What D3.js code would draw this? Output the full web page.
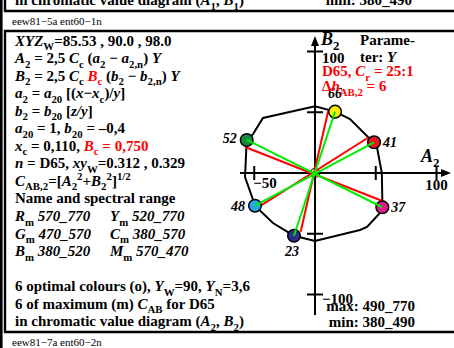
<!DOCTYPE html>
<html>
<head>
<meta charset="utf-8">
<script src="https://cdn.jsdelivr.net/npm/d3@7"></script>
<style>
  body { margin: 0; background: #fff; }
  svg { display: block; font-family: "Liberation Serif", "Times New Roman", serif; }
</style>
</head>
<body>
<div id="chart"></div>
<script>
// colour points (A2, B2) in chromatic value diagram
const pointLabels = ['66', '41', '37', '23', '48', '52'];
const pointA = [16.5, 48.6, 55.4, -17.3, -49.4, -56.2];
const pointB = [50.5, 25.3, -28.2, -51.6, -26.9, 27.2];
const pointColors = ['#ffee00', '#e8161e', '#e0188c', '#2a2e8c', '#22a8e8', '#1a8a42'];

// green lines join opposite colours
const greenPairs = [[0, 3], [1, 4], [5, 2]];

// red lines through the origin
const redStartA = [-57.6, 10.9, 43.6];
const redStartB = [21.4, 51.3, 29.0];
const redEndA = [57.6, -11.8, -50.5];
const redEndB = [-23.9, -48.3, -30.5];

// outline of the optimal colours
const outlineA = [16.5, 28.8, 43.6, 48.6, 51.0, 55.0, 55.4, 55.4, 53.5, 42.8, 37.0, 0.0, -9.9, -17.3, -34.6, -49.4, -51.0, -57.6, -56.2, -51.0, -42.8, 0.0];
const outlineB = [50.5, 44.4, 29.6, 25.3, 21.4, 0.0, -22.0, -28.2, -32.9, -44.4, -46.9, -56.0, -53.5, -51.6, -41.2, -26.9, -22.0, -3.3, 27.2, 32.0, 45.3, 55.0];

const xTicks = [-50, 50, 100];
const yTicks = [100, 50, -50, -100];

const width = 454, height = 348;
const svg = d3.select('#chart').append('svg')
  .attr('width', width)
  .attr('height', height);

const fs = 15;

// rich text helper: segments [text, flags]  i=italic s=sub p=sup r=red n=normal weight
function rich(x, y, segs, opts = {}) {
  const size = opts.size || fs;
  const t = svg.append('text')
    .attr('x', x).attr('y', y)
    .attr('font-size', size)
    .attr('font-weight', opts.weight || 'bold')
    .attr('fill', opts.fill || '#000')
    .attr('text-anchor', opts.anchor || 'start');
  let off = 0;
  segs.forEach(([txt, f = '']) => {
    let target = 0;
    if (f.includes('s')) target = size * 0.3;
    if (f.includes('p')) target = -size * 0.4;
    const ts = t.append('tspan').text(txt);
    if (target !== off) { ts.attr('dy', target - off); off = target; }
    if (f.includes('s') || f.includes('p')) ts.attr('font-size', size * 0.72);
    if (f.includes('i')) ts.attr('font-style', 'italic');
    if (f.includes('r')) ts.attr('fill', '#ff0000');
    if (f.includes('n')) ts.attr('font-weight', 'normal');
  });
  return t;
}

// frame lines
svg.append('line').attr('x1', 1.3).attr('x2', 1.3).attr('y1', 0).attr('y2', height)
  .attr('stroke', '#000').attr('stroke-width', 2.6);
svg.append('path').attr('d', 'M5,0 V11 H460').attr('fill', 'none')
  .attr('stroke', '#000').attr('stroke-width', 2.4);
svg.append('path').attr('d', 'M460,31 H5 V332 H460').attr('fill', 'none')
  .attr('stroke', '#000').attr('stroke-width', 2.4);

// top strip (previous panel)
rich(15, 5, [['in chromatic value diagram ('], ['A', 'i'], ['1', 's'], [', '], ['B', 'i'], ['1', 's'], [')']]);
rich(412, 5, [['min: 380_490']], { anchor: 'end' });
rich(12, 25, [['eew81−5a ent60−1n']], { size: 11, weight: 'normal' });
rich(12, 346, [['eew81−7a ent60−2n']], { size: 11, weight: 'normal' });

// left text block
const lines = [
  [['XYZ', 'i'], ['W', 's'], ['=85.53 , 90.0 , 98.0']],
  [['A', 'i'], ['2', 's'], [' = 2,5 '], ['C', 'i'], ['c', 's'], [' ('], ['a', 'i'], ['2', 's'], [' − '], ['a', 'i'], ['2,n', 's'], [') '], ['Y', 'i']],
  [['B', 'i'], ['2', 's'], [' = 2,5 '], ['C', 'i'], ['c', 's'], [' '], ['B', 'ir'], ['c', 'sr'], [' ('], ['b', 'i'], ['2', 's'], [' − '], ['b', 'i'], ['2,n', 's'], [') '], ['Y', 'i']],
  [['a', 'i'], ['2', 's'], [' = '], ['a', 'i'], ['20', 's'], [' [('], ['x', 'i'], ['−'], ['x', 'i'], ['c', 's'], [')/'], ['y', 'i'], [']']],
  [['b', 'i'], ['2', 's'], [' = '], ['b', 'i'], ['20', 's'], [' ['], ['z/y', 'i'], [']']],
  [['a', 'i'], ['20', 's'], [' = 1, '], ['b', 'i'], ['20', 's'], [' = –0,4']],
  [['x', 'i'], ['c', 's'], [' = 0,110, '], ['B', 'ir'], ['c', 'sr'], [' = 0,750', 'r']],
  [['n', 'i'], [' = D65, '], ['xy', 'i'], ['W', 's'], ['=0.312 , 0.329']],
  [['C', 'i'], ['AB,2', 's'], ['=['], ['A', 'i'], ['2', 's'], ['2', 'p'], ['+'], ['B', 'i'], ['2', 's'], ['2', 'p'], [']'], ['1/2', 'p']],
  [['Name and spectral range']],
  [['R', 'i'], ['m', 's'], [' 570_770', 'i']],
  [['G', 'i'], ['m', 's'], [' 470_570', 'i']],
  [['B', 'i'], ['m', 's'], [' 380_520', 'i']],
  [],
  [['6 optimal colours (o), '], ['Y', 'i'], ['W', 's'], ['=90, '], ['Y', 'i'], ['N', 's'], ['=3,6']],
  [['6 of maximum (m) '], ['C', 'i'], ['AB', 's'], [' for D65']],
  [['in chromatic value diagram ('], ['A', 'i'], ['2', 's'], [', '], ['B', 'i'], ['2', 's'], [')']]
];
const col2 = [
  [10, [['Y', 'i'], ['m', 's'], [' 520_770', 'i']]],
  [11, [['C', 'i'], ['m', 's'], [' 380_570', 'i']]],
  [12, [['M', 'i'], ['m', 's'], [' 570_470', 'i']]]
];
const lineY = i => 45.5 + i * 17.55;
lines.forEach((segs, i) => { if (segs.length) rich(15, lineY(i), segs); });
col2.forEach(([i, segs]) => rich(110, lineY(i), segs));

// chart
const x = d3.scaleLinear().domain([-100, 100]).range([315 - 121.5, 315 + 121.5]);
const y = d3.scaleLinear().domain([-100, 100]).range([173 + 121.5, 173 - 121.5]);

const g = svg.append('g');

// axes
g.append('line').attr('x1', 240).attr('x2', 443).attr('y1', y(0)).attr('y2', y(0))
  .attr('stroke', '#000').attr('stroke-width', 2);
g.append('path').attr('d', `M451,${y(0)} L441,${y(0) - 4} L441,${y(0) + 4} Z`).attr('fill', '#000');
g.append('line').attr('x1', x(0)).attr('x2', x(0)).attr('y1', 45).attr('y2', 315)
  .attr('stroke', '#000').attr('stroke-width', 2);
g.append('path').attr('d', `M${x(0)},36 L${x(0) - 4},46 L${x(0) + 4},46 Z`).attr('fill', '#000');

g.selectAll('.xt').data(xTicks).join('line')
  .attr('x1', d => x(d)).attr('x2', d => x(d))
  .attr('y1', y(0) - 7).attr('y2', y(0) + 7)
  .attr('stroke', '#000').attr('stroke-width', 2);
g.selectAll('.yt').data(yTicks).join('line')
  .attr('x1', x(0) - 8).attr('x2', x(0) + 8)
  .attr('y1', d => y(d)).attr('y2', d => y(d))
  .attr('stroke', '#000').attr('stroke-width', 2);

// outline
const outline = d3.line().x(d => x(d[0])).y(d => y(d[1])).curve(d3.curveLinearClosed);
g.append('path')
  .attr('d', outline(outlineA.map((a, i) => [a, outlineB[i]])))
  .attr('fill', 'none').attr('stroke', '#000').attr('stroke-width', 2);

// origin circle
g.append('circle').attr('cx', x(0)).attr('cy', y(0)).attr('r', 4.5)
  .attr('fill', 'none').attr('stroke', '#000').attr('stroke-width', 1.2);

// red lines
g.selectAll('.red').data(redStartA).join('line')
  .attr('x1', (d, i) => x(redStartA[i])).attr('y1', (d, i) => y(redStartB[i]))
  .attr('x2', (d, i) => x(redEndA[i])).attr('y2', (d, i) => y(redEndB[i]))
  .attr('stroke', '#ff0000').attr('stroke-width', 2);

// green lines
g.selectAll('.green').data(greenPairs).join('line')
  .attr('x1', d => x(pointA[d[0]])).attr('y1', d => y(pointB[d[0]]))
  .attr('x2', d => x(pointA[d[1]])).attr('y2', d => y(pointB[d[1]]))
  .attr('stroke', '#00ee00').attr('stroke-width', 2);

// colour circles
g.selectAll('.pt').data(pointLabels).join('circle')
  .attr('cx', (d, i) => x(pointA[i])).attr('cy', (d, i) => y(pointB[i]))
  .attr('r', 6.3)
  .attr('fill', (d, i) => pointColors[i])
  .attr('stroke', '#000').attr('stroke-width', 1.5);

// green line ends drawn again over the circles
[0, 1].forEach(k => {
  g.selectAll('.green-end' + k).data(greenPairs).join('line')
    .attr('x1', d => x(pointA[d[k]])).attr('y1', d => y(pointB[d[k]]))
    .attr('x2', d => x(pointA[d[k]]) + (x(pointA[d[1 - k]]) - x(pointA[d[k]])) * 0.05)
    .attr('y2', d => y(pointB[d[k]]) + (y(pointB[d[1 - k]]) - y(pointB[d[k]])) * 0.05)
    .attr('stroke', '#00ee00').attr('stroke-width', 2);
});

// point labels
const labelPos = [
  { dx: 0, dy: -14, anchor: 'middle' },
  { dx: 9, dy: 5, anchor: 'start' },
  { dx: 9, dy: 5, anchor: 'start' },
  { dx: -2, dy: 20, anchor: 'middle' },
  { dx: -10, dy: 5, anchor: 'end' },
  { dx: -10, dy: 3, anchor: 'end' }
];
pointLabels.forEach((lab, i) => {
  rich(x(pointA[i]) + labelPos[i].dx, y(pointB[i]) + labelPos[i].dy, [[lab, 'i']], { anchor: labelPos[i].anchor, size: 14 });
});

// tick labels
rich(x(100), y(0) + 17, [['100']], { anchor: 'middle' });
rich(x(-50) - 1, y(0) + 15, [['−50']]);
rich(x(0) + 7, y(100) + 11, [['100']]);
rich(x(0) + 7, y(-100) + 9, [['−100']]);

// axis names
rich(x(0) + 6, 45, [['B', 'i'], ['2', 's']], { size: 18 });
rich(421, y(0) - 11, [['A', 'i'], ['2', 's']], { size: 18 });

// parameter text
rich(360, 45, [['Parame-']]);
rich(360, 62, [['ter: '], ['Y', 'i']]);
rich(322, 76, [['D65, '], ['C', 'i'], ['r', 's'], [' = 25:1']], { fill: '#ff0000' });
rich(322, 91, [['Δ'], ['h', 'i'], ['AB,2', 's'], [' = 6']], { fill: '#ff0000' });

// bottom right
rich(415, 311, [['max: 490_770']], { anchor: 'end' });
rich(415, 327, [['min: 380_490']], { anchor: 'end' });
</script>
</body>
</html>
